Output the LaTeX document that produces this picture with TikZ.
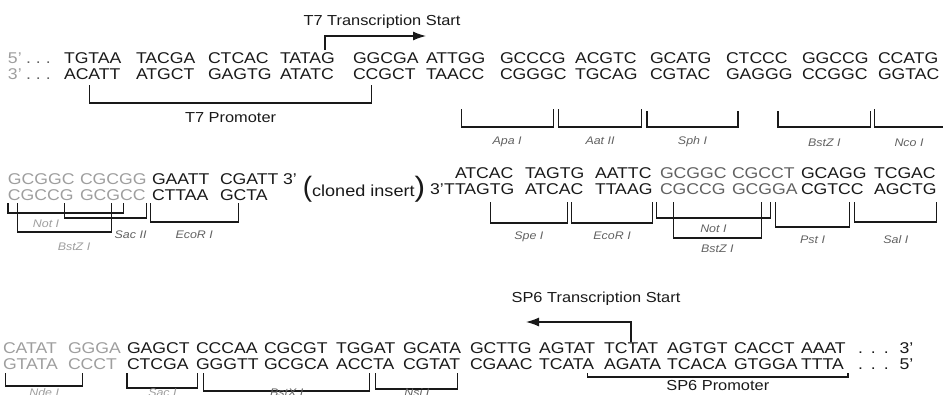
\documentclass[tikz,border=0pt]{standalone}
\usepackage{fontspec}
\setmainfont{Liberation Sans}
\newfontfamily\seqfont[FakeStretch=1.13]{Liberation Sans}
\usetikzlibrary{arrows.meta,calc}

\definecolor{ink}{gray}{0.10}
\definecolor{faded}{gray}{0.62}
\definecolor{mid}{gray}{0.38}
\definecolor{labelgray}{gray}{0.38}

\tikzset{
  seq/.style={inner sep=0pt, outer sep=0pt, anchor=base west,
    font=\seqfont\fontsize{15.6}{16}\selectfont, text=ink},
  sitelabel/.style={inner sep=0pt, anchor=base,
    font=\seqfont\fontsize{11}{12}\selectfont\itshape, text=labelgray},
  caption/.style={inner sep=0pt, anchor=base,
    font=\seqfont\fontsize{14.5}{15}\selectfont, text=ink},
  bracket/.style={draw=ink, line width=1.1pt},
  startarrow/.style={draw=ink, line width=1.2pt,
    -{Latex[length=13pt,width=9pt]}},
}

% one strand: a row of sequence groups, each group a named node
\newcommand\strandrow[4][]{%
  \foreach \x/\t [count=\i] in {#4}
    \node[seq,#1] (#2\i) at (\x,#3) {\t};}

% a site bracket hung under a strand; its ends sit at fractions of
% the widths of two group nodes.
% #1 name, #2/#3 left node/fraction, #4/#5 right node/fraction,
% #6 top y, #7 bottom y
\newcommand\sitebracket[7]{%
  \coordinate (#1L) at ($(#2.west)!#3!(#2.east)$);
  \coordinate (#1R) at ($(#4.west)!#5!(#4.east)$);
  \coordinate (#1M) at ($(#1L)!.5!(#1R)$);
  \draw[bracket] (#1L |- 0,#6) -- (#1L |- 0,#7) -- (#1R |- 0,#7) -- (#1R |- 0,#6);}

% spaced ellipsis used at the strand ends
\newcommand\gapdots{.\hspace{8pt}.\hspace{8pt}.}

\begin{document}
\begin{tikzpicture}[x=1pt,y=-1pt]
\useasboundingbox (0,0) rectangle (943,394);
\clip (0,0) rectangle (943,394);

% ---------------- row 1: T7 side ----------------
\node[seq,text=faded] (r1tp) at (8,63) {5’};
\node[seq,text=mid] (r1td) at (26,63) {.\hspace{5pt}.\hspace{5pt}.};
\node[seq,text=faded] (r1bp) at (8,79) {3’};
\node[seq,text=mid] (r1bd) at (26,79) {.\hspace{5pt}.\hspace{5pt}.};
\strandrow{r1t}{63}{64/TGTAA,136/TACGA,208/CTCAC,280/TATAG,353/GGCGA,426/ATTGG,500/GCCCG,575/ACGTC,650/GCATG,726/CTCCC,802/GGCCG,878/CCATG}
\strandrow{r1b}{79}{64/ACATT,136/ATGCT,208/GAGTG,280/ATATC,353/CCGCT,426/TAACC,500/CGGGC,575/TGCAG,650/CGTAC,726/GAGGG,802/CCGGC,878/GGTAC}

% T7 transcription start
\node[caption] (t7s) at (382,25) {T7 Transcription Start};
\coordinate (t7foot) at ($(r1t4.west)!.82!(r1t4.east)$);
\coordinate (t7head) at (426,36);
\draw[startarrow] (t7foot |- 0,50) |- (t7head);

% T7 promoter
\sitebracket{t7p}{r1b1}{.45}{r1b5}{.3}{85}{103}
\node[caption] (t7pl) at (t7pM |- 0,122) {T7 Promoter};

% restriction sites, row 1
\sitebracket{apa}{r1b6}{.6}{r1b7}{.8}{109}{127}
\sitebracket{aat}{r1b7}{.88}{r1b8}{1.06}{109}{127}
\sitebracket{sph}{r1b9}{-.05}{r1b10}{.18}{111}{127}
\sitebracket{bsz}{r1b10}{.78}{r1b11}{1.05}{111}{127}
\coordinate (ncoL) at ($(r1b12.west)!-.05!(r1b12.east)$);
\coordinate (ncoR) at (950,127);
\coordinate (ncoM) at (909,127);
\draw[bracket] (ncoL |- 0,109) -- (ncoL |- 0,127) -- (ncoR);
\node[sitelabel] (apal) at (apaM |- 0,144) {Apa I};
\node[sitelabel] (aatl) at (aatM |- 0,144) {Aat II};
\node[sitelabel] (sphl) at (sphM |- 0,144) {Sph I};
\node[sitelabel] (bszl) at (bszM |- 0,146) {BstZ I};
\node[sitelabel] (ncol) at (ncoM |- 0,146) {Nco I};

% ---------------- row 2, left: up to the insert ----------------
\strandrow[text=faded]{r2lt}{184}{8/GCGGC,80/CGCGG}
\strandrow{r2ltd}{184}{152/GAATT,220/CGATT}
\node[seq] (r2l3p) at (283,184) {3’};
\strandrow[text=faded]{r2lb}{200}{8/CGCCG,80/GCGCC}
\strandrow{r2lbd}{200}{152/CTTAA,220/GCTA}

\node[inner sep=0pt, anchor=center, text=ink] (insert) at (364,189)
  {{\fontsize{28}{28}\selectfont(}\seqfont\fontsize{16}{17}\selectfont cloned insert{\fontsize{28}{28}\selectfont)}};

\sitebracket{notl}{r2lb1}{0}{r2lb2}{.66}{203}{213}
\sitebracket{bzl}{r2lb1}{.14}{r2lb2}{.48}{203}{232}
\sitebracket{sacii}{r2lb1}{.86}{r2lb2}{1.02}{203}{218}
\sitebracket{ecol}{r2lbd1}{-.03}{r2lbd2}{.38}{203}{222}
\node[sitelabel,text=faded] (notll) at (46,227) {Not I};
\node[sitelabel,text=faded] (bzll) at (74,250) {BstZ I};
\node[sitelabel,anchor=base west] (saciil) at ($(bzlR |- 0,238)+(3,0)$) {Sac II};
\node[sitelabel] (ecoll) at (ecolM |- 0,238) {EcoR I};

% ---------------- row 2, right: after the insert ----------------
\strandrow{r2rt}{178}{455/ATCAC,525/TAGTG,595/AATTC}
\strandrow[text=mid]{r2rtm}{178}{660/GCGGC,732/CGCCT}
\strandrow{r2rte}{178}{801/GCAGG,874/TCGAC}
\node[seq] (r2rp) at (430,194) {3’};
\node[seq] (r2rx) at (444,194) {T};
\strandrow{r2rb}{194}{455/TAGTG,525/ATCAC,595/TTAAG}
\strandrow[text=mid]{r2rbm}{194}{660/CGCCG,732/GCGGA}
\strandrow{r2rbe}{194}{801/CGTCC,874/AGCTG}

\sitebracket{spe}{r2rb1}{.6}{r2rb2}{.72}{202}{223}
\sitebracket{ecor}{r2rb2}{.8}{r2rb3}{1.0}{202}{223}
\sitebracket{notr}{r2rbm1}{-.05}{r2rbm2}{.58}{202}{218}
\sitebracket{bzr}{r2rbm1}{.2}{r2rbm2}{.45}{202}{238}
\sitebracket{pst}{r2rbm2}{.66}{r2rbe1}{.78}{202}{227}
\sitebracket{sal}{r2rbe1}{.86}{r2rbe2}{1.0}{202}{222}
\node[sitelabel] (spel) at (speM |- 0,239) {Spe I};
\node[sitelabel] (ecorl) at (ecorM |- 0,239) {EcoR I};
\node[sitelabel] (notrl) at (notrM |- 0,232) {Not I};
\node[sitelabel] (bzrl) at (bzrM |- 0,252) {BstZ I};
\node[sitelabel] (pstl) at (pstM |- 0,243) {Pst I};
\node[sitelabel] (sall) at (salM |- 0,243) {Sal I};

% ---------------- row 3: SP6 side ----------------
\strandrow[text=faded]{r3tf}{353}{3/CATAT,68/GGGA}
\strandrow{r3t}{353}{127/GAGCT,196/CCCAA,264/CGCGT,336/TGGAT,403/GCATA,470/GCTTG,539/AGTAT,604/TCTAT,667/AGTGT,734/CACCT,801/AAAT}
\node[seq] (r3tdots) at (858,353) {\gapdots\hspace{11pt}3’};
\strandrow[text=faded]{r3bf}{369}{3/GTATA,68/CCCT}
\strandrow{r3b}{369}{127/CTCGA,196/GGGTT,264/GCGCA,336/ACCTA,403/CGTAT,470/CGAAC,539/TCATA,604/AGATA,667/TCACA,734/GTGGA,801/TTTA}
\node[seq] (r3bdots) at (858,369) {\gapdots\hspace{11pt}5’};

% SP6 transcription start
\node[caption] (sp6s) at (596,302) {SP6 Transcription Start};
\coordinate (sp6foot) at ($(r3t8.west)!.5!(r3t8.east)$);
\coordinate (sp6head) at (526,322);
\draw[startarrow] (sp6foot |- 0,342) |- (sp6head);

% SP6 promoter
\sitebracket{sp6p}{r3b7}{.88}{r3b11}{1.1}{373}{377}
\node[caption] (sp6pl) at (sp6pM |- 0,390) {SP6 Promoter};

% restriction sites, row 3 (labels run off the lower edge)
\sitebracket{nde}{r3bf1}{.05}{r3bf2}{.3}{373}{386}
\sitebracket{saci}{r3b1}{.0}{r3b2}{.03}{373}{388}
\sitebracket{bstx}{r3b2}{.12}{r3b4}{.58}{373}{391}
\sitebracket{nsi}{r3b4}{.68}{r3b5}{.96}{373}{389}
\node[sitelabel,text=faded] (ndel) at (ndeM |- 0,396.5) {Nde I};
\node[sitelabel,text=faded] (sacil) at (saciM |- 0,396.5) {Sac I};
\node[sitelabel] (bstxl) at (bstxM |- 0,396.5) {BstX I};
\node[sitelabel] (nsil) at (nsiM |- 0,396.5) {Nsi I};
\end{tikzpicture}
\end{document}
